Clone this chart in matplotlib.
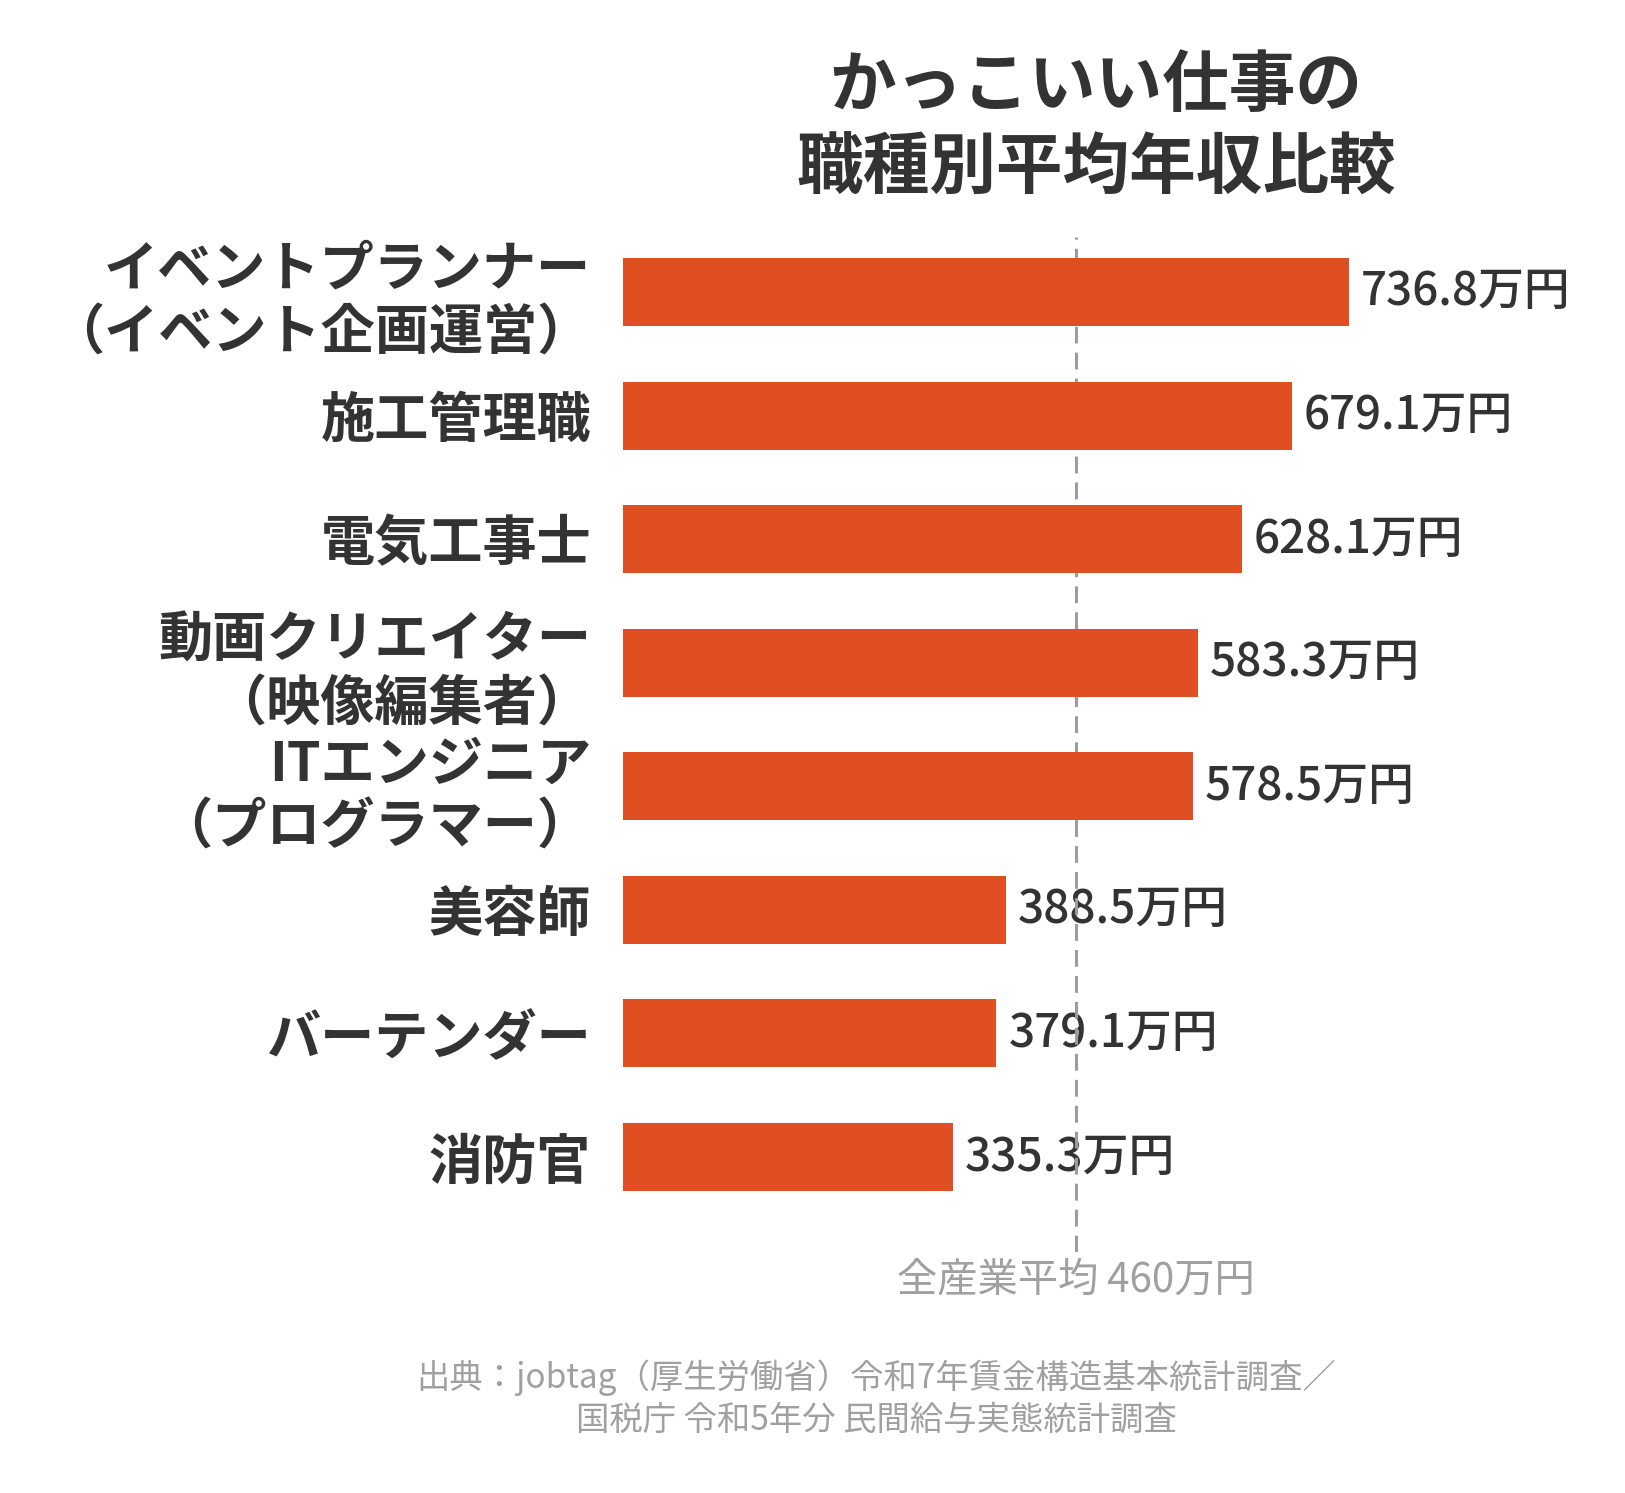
import matplotlib.pyplot as plt

plt.rcParams['font.family'] = ['Noto Sans CJK JP', 'DejaVu Sans']

# Data
jobs = [
    "イベントプランナー\n（イベント企画運営）",
    "施工管理職",
    "電気工事士",
    "動画クリエイター\n（映像編集者）",
    "ITエンジニア\n（プログラマー）",
    "美容師",
    "バーテンダー",
    "消防官",
]
salaries = [736.8, 679.1, 628.1, 583.3, 578.5, 388.5, 379.1, 335.3]
average = 460
average_label = "全産業平均 460万円"
title = "かっこいい仕事の\n職種別平均年収比較"
source = "出典：jobtag（厚生労働省）令和7年賃金構造基本統計調査／\n国税庁 令和5年分 民間給与実態統計調査"

bar_color = "#E04F22"
text_color = "#333333"
grey = "#9c9c9c"

W, H = 1625, 1493
fig = plt.figure(figsize=(W / 100, H / 100), dpi=100)

# axes placed in pixel terms: bars start at x=623, line runs y=237..1252
ax = fig.add_axes([623 / W, 1 - 1252 / H, (W - 623) / W, (1252 - 237) / H])
ax.set_xlim(0, (W - 623) / 0.985)
ax.set_ylim(7 + 95 / 123.6, -55 / 123.6)

y = list(range(len(jobs)))
ax.barh(y, salaries, height=0.55, color=bar_color, zorder=3)
ax.axvline(average, color=grey, lw=2.2, dashes=(5.5, 3), zorder=2)

for yi, v in zip(y, salaries):
    ax.text(v + 12, yi, f"{v:.1f}万円", va="center", ha="left",
            fontsize=33, color=text_color, fontweight="medium", zorder=1)

ax.set_yticks(y)
ax.set_yticklabels(jobs, fontsize=39, fontweight="bold", color=text_color,
                   linespacing=1.2)
ax.tick_params(axis="y", length=0, pad=23)
ax.set_xticks([])
for s in ax.spines.values():
    s.set_visible(False)

ax.text(average, 7 + 123 / 123.6, average_label, ha="center", va="center",
        fontsize=29, color="#a0a0a0", clip_on=False)

fig.text(1096 / W, 1 - 128 / H, title, ha="center", va="center",
         fontsize=48, fontweight="bold", color=text_color, linespacing=1.3)
fig.text(876 / W, 1 - 1399 / H, source, ha="center", va="center",
         fontsize=24, color="#a0a0a0", linespacing=1.25)

fig.savefig("out.png", dpi=100, facecolor="white")
